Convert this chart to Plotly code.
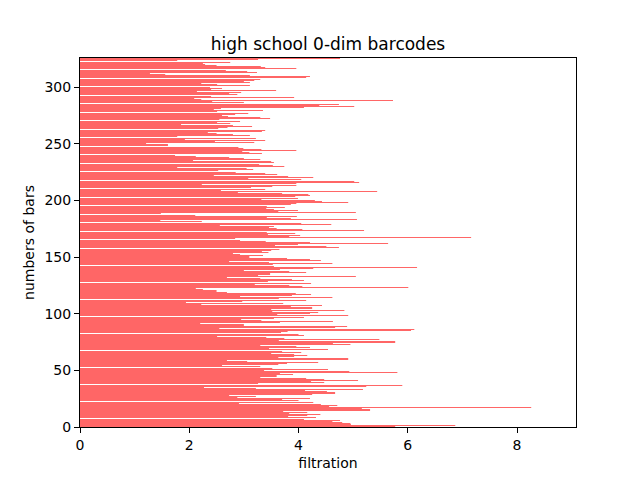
import plotly.graph_objects as go

# death values of the 0-dim bars (birth is 0), listed from the top bar down
deaths_top_down = [
    4.76, 3.26, 1.78, 2.75, 2.25, 2.29, 2.50, 3.31, 3.39, 3.96, 2.67, 3.06, 3.24, 1.28, 1.56, 3.11, 4.21,
    4.14, 3.30, 3.19, 3.00, 3.11, 2.22, 2.51, 3.11, 2.38, 2.60, 2.40, 3.59, 2.14, 2.95, 2.73, 2.88,
    2.40, 3.92, 2.09, 2.22, 5.73, 2.42, 3.00, 4.74, 4.38, 5.02, 4.10, 2.58, 2.45, 3.35, 2.51, 3.08, 2.84,
    2.60, 2.71, 3.30, 3.48, 2.55, 2.93, 2.51, 2.75, 1.85, 2.80, 3.15, 2.70, 2.53, 3.39, 3.33, 2.34, 2.50,
    2.80, 3.11,
    1.78, 3.22, 1.92, 3.39, 2.47, 3.19, 1.21, 1.61, 1.61, 2.90, 2.99, 3.32, 3.96, 2.97, 3.10, 3.33, 1.74,
    2.12, 2.73, 3.00, 3.30, 2.07, 3.50, 3.55, 3.28, 3.53, 3.74, 1.78, 3.05, 3.17, 2.53, 2.85, 3.39, 3.61,
    2.45,
    3.81, 4.27, 3.08, 4.05, 5.02, 5.11, 3.96, 2.23, 3.96, 3.52, 3.13, 3.39, 2.58, 5.44, 2.89, 3.70, 4.18,
    4.21, 3.94, 3.99, 3.32, 4.30, 4.43, 4.91, 3.96, 3.86, 3.42, 3.75, 3.41, 3.55, 3.99, 3.63, 5.05, 1.48,
    2.11, 3.97,
    3.42, 3.86, 5.07, 1.47, 2.23, 4.05, 4.60, 2.56, 3.55, 3.46, 3.60, 4.07, 5.20, 3.42, 3.94, 3.44, 4.03,
    3.83, 7.16, 2.84, 2.93, 3.40, 4.21, 5.64, 3.99, 3.57, 4.51, 4.74, 3.65, 3.50, 3.33, 3.45, 2.80, 2.93,
    3.35,
    3.10, 3.79, 4.21, 4.41, 2.73, 3.46, 4.62, 3.53, 3.55, 6.17, 4.27, 3.66, 3.00, 3.83, 4.14, 3.48, 3.26,
    5.05, 2.69, 3.30, 3.88, 4.10, 3.44, 4.23, 3.20, 3.83, 4.07, 6.01, 2.12, 2.25, 2.50, 2.69, 3.95, 4.23,
    3.88,
    2.93, 4.62, 3.64, 4.14, 2.97, 1.94, 3.72, 2.22, 4.43, 3.86, 4.25, 3.50, 4.84, 3.52, 4.36, 4.21, 3.61,
    4.91, 4.10, 3.55, 2.95, 3.32, 4.63, 3.66, 2.20, 3.00, 4.89, 4.67, 2.55, 6.12, 6.06, 3.80, 3.68, 4.00,
    4.10,
    2.51, 3.41, 3.74, 5.48, 3.64, 5.77, 4.63, 4.95, 3.30, 3.96, 4.21, 3.46, 4.54, 3.70, 4.05, 3.50, 3.92,
    4.16, 3.92, 3.63, 4.91, 2.69, 3.06, 4.36, 3.79, 3.63, 2.60, 3.30, 3.52, 4.54, 3.37, 4.93, 5.81, 3.66,
    3.90, 3.60, 3.30, 4.14, 4.47, 5.09, 4.23,
    4.47, 3.26, 5.90, 5.24, 2.27, 3.22, 5.18, 4.12, 4.52, 4.67, 4.25, 2.73, 3.22, 2.88, 4.21, 3.70, 4.00,
    4.27, 2.91, 4.41, 4.71, 4.56, 8.26, 5.16, 5.31, 3.72, 4.16, 3.83, 4.40, 4.16, 3.81, 4.32, 4.10, 4.76,
    4.62, 4.80, 4.95, 4.96, 6.87, 5.77,
]
deaths = deaths_top_down[::-1]
bar_index = list(range(len(deaths)))

x_ticks = [0, 2, 4, 6, 8]
y_ticks = [0, 50, 100, 150, 200, 250, 300]

font = dict(family="DejaVu Sans", color="black")

fig = go.Figure()
fig.add_trace(
    go.Bar(
        x=deaths,
        y=bar_index,
        orientation="h",
        # very thin opaque bars: plotly widens each one to a full pixel row,
        # which leaves the same thin white gaps as the original raster
        width=0.02,
        marker=dict(color="#ff6666", line=dict(width=0)),
        hoverinfo="x+y",
    )
)

axis_style = dict(
    showline=True,
    mirror=True,
    linecolor="black",
    linewidth=1,
    ticks="outside",
    ticklen=5,
    tickwidth=1,
    tickcolor="black",
    showgrid=False,
    zeroline=False,
    automargin=False,
    tickfont=dict(size=14, **font),
)

# the page body adds 8px around the plot, so margins are shifted by that
fig.update_layout(
    width=640,
    height=480,
    margin=dict(l=72, r=72, t=50, b=61),
    paper_bgcolor="white",
    plot_bgcolor="white",
    font=font,
    showlegend=False,
    title=dict(
        text="high school 0-dim barcodes",
        font=dict(size=17, **font),
        x=0.5,
        xref="paper",
        xanchor="center",
        y=1 - 36 / 480,
        yref="container",
        yanchor="middle",
    ),
    xaxis=dict(
        range=[0, 9.08],
        tickvals=x_ticks,
        title=dict(text="filtration", font=dict(size=14, **font), standoff=6),
        **axis_style,
    ),
    yaxis=dict(
        range=[0, 325.6],
        tickvals=y_ticks,
        title=dict(text="numbers of bars", font=dict(size=14, **font), standoff=6),
        **axis_style,
    ),
)

fig.write_html("out.html")
